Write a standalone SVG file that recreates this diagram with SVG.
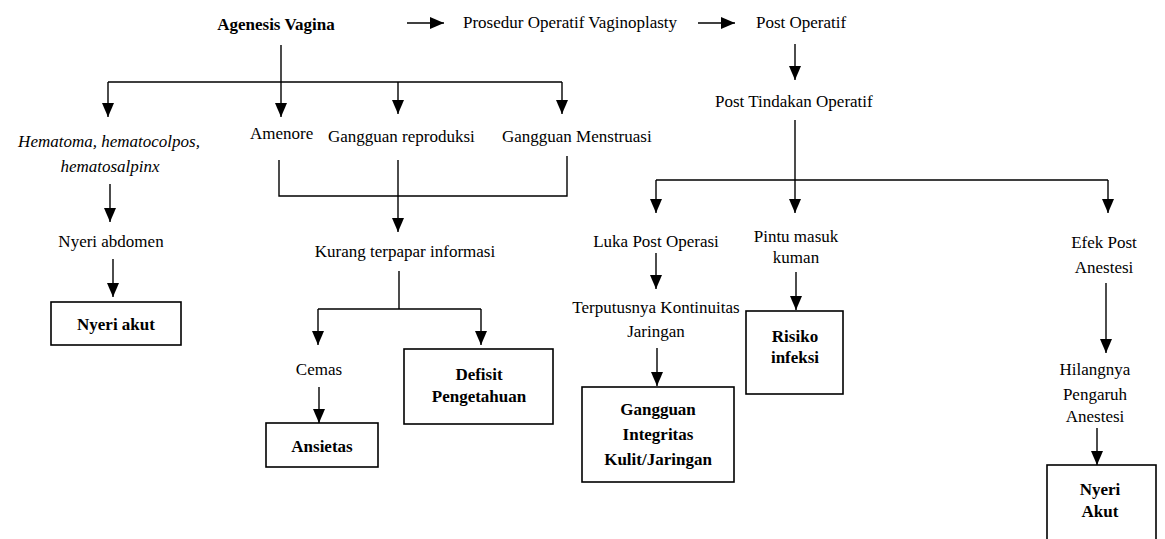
<svg xmlns="http://www.w3.org/2000/svg" width="1165" height="539" viewBox="0 0 1165 539">
<style>
text{font-family:"Liberation Serif","Times New Roman",serif;font-size:17px;fill:#000}
.b{font-weight:bold}
.i{font-style:italic}
.m{text-anchor:middle}
.ln{stroke:#000;stroke-width:1.4;fill:none}
.bx{stroke:#000;stroke-width:1.6;fill:#fff}
.ar{marker-end:url(#ah)}
</style>
<defs>
<marker id="ah" markerUnits="userSpaceOnUse" markerWidth="14" markerHeight="14" viewBox="0 0 14 12" refX="14" refY="6" orient="auto">
<path d="M0,0 L14,6 L0,12 z" fill="#000"/>
</marker>
</defs>
<rect width="1165" height="539" fill="#fff"/>
<g id="connectors">
<path class="ln ar" d="M407,23 H444"/>
<path class="ln ar" d="M698,23 H735"/>
<path class="ln" d="M281,45 V82 M108,82 H562"/>
<path class="ln ar" d="M108,82 V117"/>
<path class="ln ar" d="M281,82 V117"/>
<path class="ln ar" d="M398,82 V114"/>
<path class="ln ar" d="M562,82 V114"/>
<path class="ln ar" d="M795,44 V80"/>
<path class="ln" d="M795,120 V180 M656,180 H1108"/>
<path class="ln ar" d="M656,180 V213"/>
<path class="ln ar" d="M795,180 V213"/>
<path class="ln ar" d="M1108,180 V213"/>
<path class="ln ar" d="M110,184 V222"/>
<path class="ln ar" d="M113,259 V297"/>
<path class="ln" d="M279,160 V196 H567 V156"/>
<path class="ln ar" d="M398,160 V232"/>
<path class="ln" d="M399,271 V309 M318,309 H481"/>
<path class="ln ar" d="M318,309 V345"/>
<path class="ln ar" d="M481,309 V345"/>
<path class="ln ar" d="M319,387 V423"/>
<path class="ln ar" d="M656,253 V289"/>
<path class="ln ar" d="M657,348 V386"/>
<path class="ln ar" d="M796,272 V310"/>
<path class="ln ar" d="M1106,283 V353"/>
<path class="ln ar" d="M1097,428 V465"/>
</g>
<g id="n-agenesis"><text class="b m" x="276" y="30">Agenesis Vagina</text></g>
<g id="n-prosedur"><text x="463" y="28">Prosedur Operatif Vaginoplasty</text></g>
<g id="n-postop"><text x="756" y="28">Post Operatif</text></g>
<g id="n-posttindakan"><text x="715" y="107">Post Tindakan Operatif</text></g>
<g id="n-hematoma">
<text class="i m" x="109" y="147">Hematoma, hematocolpos,</text>
<text class="i m" x="110" y="172">hematosalpinx</text>
</g>
<g id="n-amenore"><text x="250" y="139">Amenore</text></g>
<g id="n-reproduksi"><text x="328" y="142">Gangguan reproduksi</text></g>
<g id="n-menstruasi"><text x="502" y="142">Gangguan Menstruasi</text></g>
<g id="n-nyeriabdomen"><text class="m" x="111" y="247">Nyeri abdomen</text></g>
<g id="n-nyeriakut">
<rect class="bx" x="51" y="302" width="130" height="43"/>
<text class="b m" x="116" y="330">Nyeri akut</text>
</g>
<g id="n-kurang"><text class="m" x="405" y="257">Kurang terpapar informasi</text></g>
<g id="n-cemas"><text class="m" x="319" y="375">Cemas</text></g>
<g id="n-ansietas">
<rect class="bx" x="266" y="423" width="112" height="44"/>
<text class="b m" x="322" y="452">Ansietas</text>
</g>
<g id="n-defisit">
<rect class="bx" x="404" y="349" width="149" height="75"/>
<text class="b m" x="479" y="380">Defisit</text>
<text class="b m" x="479" y="402">Pengetahuan</text>
</g>
<g id="n-luka"><text class="m" x="656" y="247">Luka Post Operasi</text></g>
<g id="n-terputus">
<text class="m" x="656" y="313">Terputusnya Kontinuitas</text>
<text class="m" x="656" y="337">Jaringan</text>
</g>
<g id="n-integritas">
<rect class="bx" x="582" y="387" width="152" height="95"/>
<text class="b m" x="658" y="415">Gangguan</text>
<text class="b m" x="658" y="440">Integritas</text>
<text class="b m" x="658" y="465">Kulit/Jaringan</text>
</g>
<g id="n-pintu">
<text class="m" x="796" y="242">Pintu masuk</text>
<text class="m" x="796" y="263">kuman</text>
</g>
<g id="n-risiko">
<rect class="bx" x="746" y="311" width="97" height="83"/>
<text class="b m" x="795" y="342">Risiko</text>
<text class="b m" x="795" y="363">infeksi</text>
</g>
<g id="n-efek">
<text class="m" x="1104" y="248">Efek Post</text>
<text class="m" x="1104" y="273">Anestesi</text>
</g>
<g id="n-hilang">
<text class="m" x="1095" y="375">Hilangnya</text>
<text class="m" x="1095" y="400">Pengaruh</text>
<text class="m" x="1095" y="422">Anestesi</text>
</g>
<g id="n-nyeriakut2">
<rect class="bx" x="1047" y="465" width="109" height="100"/>
<text class="b m" x="1100" y="495">Nyeri</text>
<text class="b m" x="1100" y="517">Akut</text>
</g>
</svg>
